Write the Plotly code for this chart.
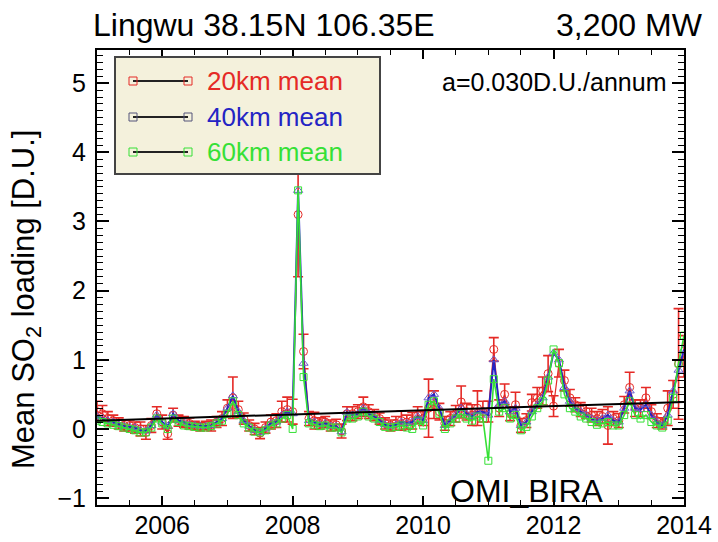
import plotly.graph_objects as go

# ---------------- data ----------------
start_year = 2005
n_months = 109  # Jan 2005 .. Jan 2014
months = [start_year + i / 12 for i in range(n_months)]

so2_20km = [
    0.25, 0.22, 0.15, 0.12, 0.08, 0.05, 0.05, 0.02, 0.00, -0.05, 0.05, 0.22,
    0.10, -0.07, 0.20, 0.12, 0.10, 0.08, 0.05, 0.03, 0.05, 0.05, 0.10, 0.15,
    0.30, 0.45, 0.28, 0.15, 0.05, 0.00, -0.06, 0.02, 0.10, 0.12, 0.25, 0.28,
    0.25, 3.10, 1.12, 0.15, 0.12, 0.08, 0.10, 0.05, 0.06, -0.03, 0.22, 0.22,
    0.25, 0.32, 0.25, 0.20, 0.15, 0.08, 0.05, 0.08, 0.12, 0.10, 0.12, 0.20,
    0.15, 0.30, 0.35, 0.25, 0.08, 0.15, 0.22, 0.39, 0.25, 0.20, 0.30, 0.25,
    0.25, 1.15, 0.30, 0.50, 0.22, 0.35, 0.05, 0.12, 0.38, 0.45, 0.55, 0.80,
    0.33, 0.95, 0.70, 0.45, 0.35, 0.28, 0.25, 0.20, 0.15, 0.18, 0.05, 0.15,
    0.12, 0.35, 0.60, 0.30, 0.30, 0.45, 0.25, 0.12, 0.08, 0.30, 0.50, 0.94,
    1.05,
]
so2_40km = [
    0.18, 0.15, 0.12, 0.10, 0.06, 0.04, 0.03, 0.02, -0.02, -0.03, 0.05, 0.20,
    0.10, 0.04, 0.22, 0.12, 0.10, 0.06, 0.05, 0.04, 0.04, 0.05, 0.10, 0.15,
    0.30, 0.48, 0.25, 0.12, 0.04, -0.02, -0.05, 0.00, 0.08, 0.10, 0.20, 0.25,
    0.22, 3.45, 0.95, 0.12, 0.10, 0.06, 0.08, 0.04, 0.04, -0.04, 0.24, 0.20,
    0.22, 0.30, 0.22, 0.18, 0.12, 0.06, 0.04, 0.06, 0.10, 0.08, 0.10, 0.18,
    0.12, 0.45, 0.50, 0.30, 0.05, 0.12, 0.20, 0.30, 0.22, 0.18, 0.25, 0.25,
    0.20, 1.00, 0.35, 0.40, 0.25, 0.30, 0.05, 0.10, 0.25, 0.35, 0.45, 0.75,
    1.10, 1.00, 0.60, 0.40, 0.30, 0.25, 0.20, 0.15, 0.12, 0.15, 0.20, 0.12,
    0.10, 0.30, 0.55, 0.30, 0.28, 0.35, 0.20, 0.10, 0.05, 0.20, 0.55, 0.85,
    1.15,
]
so2_60km = [
    0.12, 0.10, 0.08, 0.06, 0.04, 0.02, 0.00, -0.02, -0.05, -0.05, 0.02, 0.15,
    0.08, 0.00, 0.15, 0.10, 0.05, 0.04, 0.03, 0.02, 0.02, 0.04, 0.08, 0.12,
    0.22, 0.40, 0.20, 0.08, 0.02, -0.04, -0.05, -0.02, 0.05, 0.08, 0.15, 0.20,
    0.00, 3.45, 0.75, 0.08, 0.06, 0.04, 0.05, 0.02, 0.02, -0.05, 0.15, 0.15,
    0.18, 0.25, 0.18, 0.15, 0.10, 0.03, 0.02, 0.03, 0.05, 0.02, 0.00, 0.12,
    0.05, 0.35, 0.40, 0.22, 0.00, 0.08, 0.15, 0.22, 0.15, 0.12, 0.18, 0.15,
    -0.46, 0.72, 0.25, 0.30, 0.15, 0.20, -0.02, 0.03, 0.18, 0.30, 0.40, 0.70,
    1.15, 0.95, 0.50, 0.30, 0.25, 0.18, 0.15, 0.10, 0.06, 0.08, 0.10, 0.05,
    0.05, 0.20, 0.40, 0.20, 0.15, 0.20, 0.10, 0.05, 0.02, 0.12, 0.45, 0.95,
    1.35,
]
err_20km = [
    0.15, 0.12, 0.10, 0.08, 0.08, 0.08, 0.08, 0.08, 0.10, 0.10, 0.10, 0.10,
    0.10, 0.08, 0.10, 0.08, 0.08, 0.08, 0.06, 0.06, 0.06, 0.08, 0.08, 0.10,
    0.12, 0.30, 0.12, 0.08, 0.08, 0.08, 0.08, 0.08, 0.10, 0.10, 0.15, 0.18,
    0.18, 0.90, 0.25, 0.10, 0.12, 0.08, 0.08, 0.08, 0.08, 0.10, 0.10, 0.10,
    0.10, 0.14, 0.10, 0.08, 0.08, 0.08, 0.08, 0.10, 0.14, 0.10, 0.12, 0.12,
    0.10, 0.42, 0.20, 0.12, 0.10, 0.10, 0.12, 0.23, 0.12, 0.15, 0.25, 0.15,
    0.15, 0.17, 0.12, 0.15, 0.10, 0.18, 0.10, 0.10, 0.12, 0.15, 0.20, 0.26,
    0.15, 0.20, 0.15, 0.12, 0.10, 0.10, 0.10, 0.10, 0.10, 0.10, 0.27, 0.10,
    0.10, 0.12, 0.22, 0.12, 0.12, 0.15, 0.10, 0.10, 0.08, 0.25, 0.20, 0.80,
    0.30,
]
trend_years = [2005, 2014]
trend_vals = [0.12, 0.39]

series_names = ["20km mean", "40km mean", "60km mean"]
x_tickvals = [2006, 2008, 2010, 2012, 2014]
y_tickvals = [-1, 0, 1, 2, 3, 4, 5]

RED = "#E52A26"
BLUE = "#2424C4"
GREEN = "#36E036"
FONT = "Liberation Sans, Arial, Helvetica, sans-serif"

# ---------------- figure ----------------
fig = go.Figure()
fig.add_trace(go.Scatter(
    x=months, y=so2_20km, mode="lines+markers", name=series_names[0],
    line=dict(color=RED, width=1.2),
    marker=dict(symbol="circle-open", size=8, color=RED, line=dict(width=1)),
    error_y=dict(type="data", array=err_20km, color=RED, thickness=1.6, width=5),
))
fig.add_trace(go.Scatter(
    x=months, y=so2_40km, mode="lines+markers", name=series_names[1],
    line=dict(color=BLUE, width=2),
    marker=dict(symbol="triangle-up-open", size=8, color="#6A5ACD", line=dict(width=1)),
))
fig.add_trace(go.Scatter(
    x=months, y=so2_60km, mode="lines+markers", name=series_names[2],
    line=dict(color=GREEN, width=1.6),
    marker=dict(symbol="square-open", size=7, color=GREEN, line=dict(width=1)),
))
fig.add_trace(go.Scatter(
    x=trend_years, y=trend_vals, mode="lines", name="trend",
    line=dict(color="black", width=2),
))

# plot-area pixel geometry (for decorations only)
L, R, T, B = 97, 684, 50, 505
W, H = 718, 542


def px(xp):
    return (xp - L) / (R - L)


def py(yp):
    return (B - yp) / (B - T)


shapes = []
annotations = []

# manual legend box
shapes.append(dict(type="rect", xref="paper", yref="paper",
                   x0=px(115), x1=px(380), y0=py(174), y1=py(57),
                   fillcolor="#F4F1DC", line=dict(color="#444444", width=2),
                   layer="above"))
row_y = [81, 117, 152]
colors = [RED, "#55557A", GREEN]
text_colors = [RED, BLUE, GREEN]
for name, c, tc, yy in zip(series_names, colors, text_colors, row_y):
    shapes.append(dict(type="line", xref="paper", yref="paper",
                       x0=px(133), x1=px(188), y0=py(yy), y1=py(yy),
                       line=dict(color="#222222", width=2), layer="above"))
    for xc in (133, 188):
        shapes.append(dict(type="rect", xref="paper", yref="paper",
                           x0=px(xc - 4), x1=px(xc + 4), y0=py(yy + 4), y1=py(yy - 4),
                           line=dict(color=c, width=1), fillcolor="rgba(0,0,0,0)",
                           layer="above"))
    annotations.append(dict(xref="paper", yref="paper", x=px(205), y=py(yy),
                            xanchor="left", yanchor="middle", showarrow=False,
                            text=name, font=dict(family=FONT, size=26, color=tc)))

annotations += [
    dict(xref="paper", yref="paper", x=px(91), y=py(25), xanchor="left",
         yanchor="middle", showarrow=False, text="Lingwu 38.15N 106.35E",
         font=dict(family=FONT, size=32, color="black")),
    dict(xref="paper", yref="paper", x=px(705), y=py(25), xanchor="right",
         yanchor="middle", showarrow=False, text="3,200 MW",
         font=dict(family=FONT, size=32, color="black")),
    dict(xref="paper", yref="paper", x=px(668), y=py(82), xanchor="right",
         yanchor="middle", showarrow=False, text="a=0.030D.U./annum",
         font=dict(family=FONT, size=25, color="black")),
    dict(xref="x", yref="y", x=2011.6, y=-0.9, xanchor="center",
         yanchor="middle", showarrow=False, text="OMI_BIRA",
         font=dict(family=FONT, size=32, color="black")),
    dict(xref="paper", yref="paper", x=px(26), y=py(300), xanchor="center",
         yanchor="middle", showarrow=False, textangle=-90,
         text="Mean SO<sub>2</sub> loading [D.U.]",
         font=dict(family=FONT, size=31, color="black")),
]

axis_common = dict(
    showline=True, linecolor="black", linewidth=2, mirror="ticks",
    ticks="inside", tickcolor="black", tickwidth=1.5,
    showgrid=False, zeroline=False, automargin=False,
    tickfont=dict(family=FONT, size=25, color="black"),
)

fig.update_layout(
    template="none",
    width=W, height=H,
    margin=dict(l=L, r=W - R, t=T, b=H - B, autoexpand=False),
    paper_bgcolor="white", plot_bgcolor="white",
    showlegend=False,
    shapes=shapes, annotations=annotations,
    xaxis=dict(range=[2005, 2014], tickvals=x_tickvals, ticklen=9,
               ticklabelstandoff=-3,
               minor=dict(dtick=0.5, tick0=2005, ticks="inside", ticklen=5,
                          tickcolor="black", tickwidth=1.2, showgrid=False),
               **axis_common),
    yaxis=dict(range=[-1.1, 5.48], tickvals=y_tickvals, ticklen=12,
               ticklabelstandoff=4,
               minor=dict(dtick=0.1, tick0=0, ticks="inside", ticklen=6,
                          tickcolor="black", tickwidth=1.2, showgrid=False),
               **axis_common),
)

fig.write_html("out.html")
